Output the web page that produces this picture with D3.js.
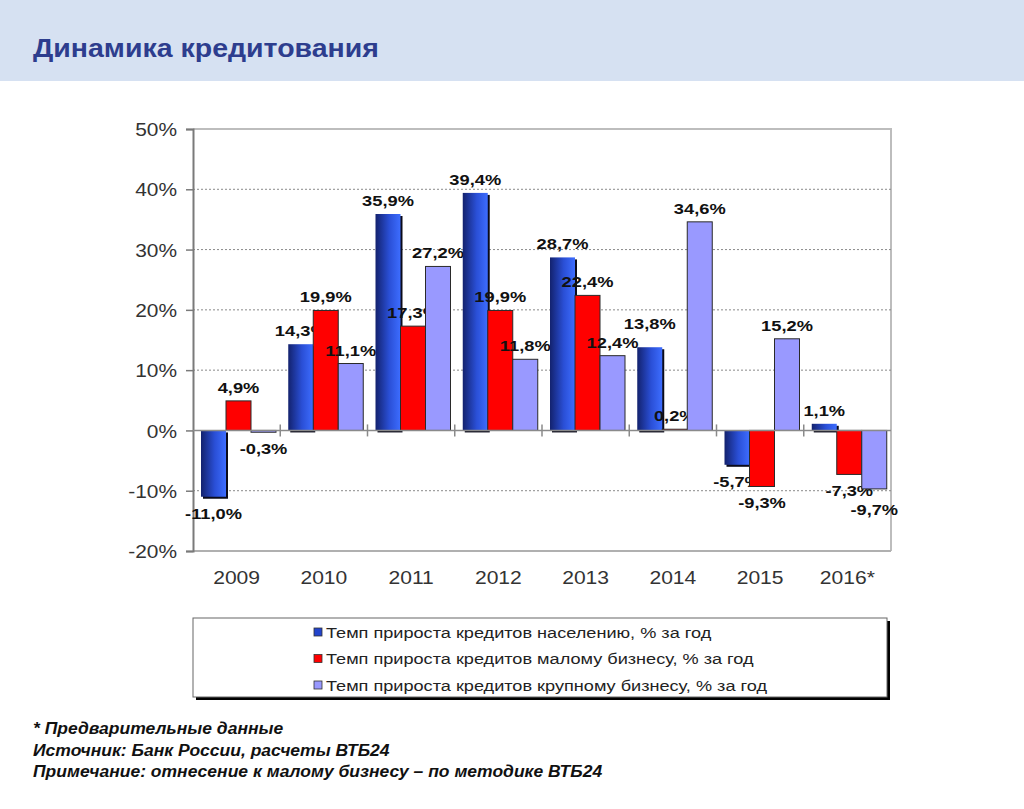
<!DOCTYPE html>
<html>
<head>
<meta charset="utf-8">
<script src="https://cdn.jsdelivr.net/npm/d3@7"></script>
<style>
  body { margin: 0; background: #fff; }
  svg { display: block; font-family: "Liberation Sans", Arial, sans-serif; }
</style>
</head>
<body>
<svg width="1024" height="809"></svg>
<script>
const years = ["2009", "2010", "2011", "2012", "2013", "2014", "2015", "2016*"];
const seriesNames = [
    "Темп прироста кредитов населению, % за год",
    "Темп прироста кредитов малому бизнесу, % за год",
    "Темп прироста кредитов крупному бизнесу, % за год"
];
const retail = [-11.0, 14.3, 35.9, 39.4, 28.7, 13.8, -5.7, 1.1];
const smallBiz = [4.9, 19.9, 17.3, 19.9, 22.4, 0.2, -9.3, -7.3];
const largeBiz = [-0.3, 11.1, 27.2, 11.8, 12.4, 34.6, 15.2, -9.7];
const yTicks = [-20, -10, 0, 10, 20, 30, 40, 50];
const footnotes = [
    "* Предварительные данные",
    "Источник: Банк России, расчеты ВТБ24",
    "Примечание: отнесение к малому бизнесу – по методике ВТБ24"
];

const seriesValues = [retail, smallBiz, largeBiz];
const colors = ["url(#blueGrad)", "#ff0000", "#9999ff"];
const legendColors = ["#2244cc", "#ff0000", "#9999ff"];

const plotLeft = 193, plotRight = 891, plotTop = 129, plotBottom = 551;
// the original picture is stretched a little horizontally
const stretch = 1.18;

const svg = d3.select("svg");

const defs = svg.append("defs");
const grad = defs.append("linearGradient")
    .attr("id", "blueGrad")
    .attr("x1", "0%").attr("x2", "100%").attr("y1", "0%").attr("y2", "0%");
grad.append("stop").attr("offset", "0%").attr("stop-color", "#13226e");
grad.append("stop").attr("offset", "55%").attr("stop-color", "#2a4fd6");
grad.append("stop").attr("offset", "100%").attr("stop-color", "#3d6dff");

// header band
svg.append("rect")
    .attr("x", 0).attr("y", 0)
    .attr("width", 1024).attr("height", 81)
    .attr("fill", "#d6e1f2");

svg.append("text")
    .attr("transform", "translate(33,57) scale(1.14,1)")
    .attr("font-size", 25)
    .attr("font-weight", 700)
    .attr("fill", "#2d3d8e")
    .text("Динамика кредитования");

const x = d3.scaleBand()
    .domain(years)
    .range([plotLeft, plotRight]);

const xInner = d3.scaleBand()
    .domain(d3.range(seriesNames.length))
    .range([8, 83]);

const y = d3.scaleLinear()
    .domain([-20, 50])
    .range([plotBottom, plotTop]);

// frame: top and right light gray
svg.append("path")
    .attr("d", `M${plotLeft},${plotTop}H${plotRight}V${plotBottom}`)
    .attr("fill", "none")
    .attr("stroke", "#bdbdbd")
    .attr("stroke-width", 2);

// dotted gridlines
svg.append("g")
    .selectAll("line")
    .data(yTicks.filter(t => t !== 0 && t !== -20 && t !== 50))
    .join("line")
    .attr("x1", plotLeft).attr("x2", plotRight)
    .attr("y1", d => y(d)).attr("y2", d => y(d))
    .attr("stroke", "#8a8a8a")
    .attr("stroke-width", 1)
    .attr("stroke-dasharray", "2,2");

// bottom line
svg.append("line")
    .attr("x1", plotLeft).attr("x2", plotRight)
    .attr("y1", plotBottom).attr("y2", plotBottom)
    .attr("stroke", "#b0b0b0")
    .attr("stroke-width", 2);

// y axis
const yAxis = d3.axisLeft(y)
    .tickValues(yTicks)
    .tickSize(7)
    .tickFormat(d => d + "%");

const yStretch = 1.1;
const yAxisG = svg.append("g")
    .attr("transform", `translate(${plotLeft},0)`)
    .call(yAxis);
yAxisG.select(".domain").attr("stroke", "#7a7a7a").attr("stroke-width", 2);
yAxisG.selectAll(".tick line").attr("stroke", "#7a7a7a").attr("stroke-width", 1.5);
yAxisG.selectAll(".tick text")
    .attr("x", -16 / yStretch)
    .attr("dy", "0.35em")
    .attr("transform", `scale(${yStretch},1)`)
    .attr("font-size", 19)
    .attr("font-family", "Liberation Sans, Arial, sans-serif")
    .attr("fill", "#333");

// bars
const groups = svg.append("g")
    .selectAll("g")
    .data(years)
    .join("g")
    .attr("transform", d => `translate(${x(d)},0)`);

const cells = groups.selectAll("g.bar")
    .data((d, i) => seriesValues.map((vals, s) => ({ s, v: vals[i] })))
    .join("g")
    .attr("class", "bar");

// 3D-like shadow for the blue series
cells.filter(d => d.s === 0)
    .append("rect")
    .attr("x", d => xInner(d.s) + 2)
    .attr("y", d => Math.min(y(d.v), y(0)) + 2)
    .attr("width", xInner.bandwidth())
    .attr("height", d => Math.max(Math.abs(y(d.v) - y(0)), 1))
    .attr("fill", "#0b0b1a");

cells.append("rect")
    .attr("x", d => xInner(d.s))
    .attr("y", d => Math.min(y(d.v), y(0)))
    .attr("width", xInner.bandwidth())
    .attr("height", d => Math.max(Math.abs(y(d.v) - y(0)), 1))
    .attr("fill", d => colors[d.s])
    .attr("stroke", d => d.s === 0 ? "none" : "#2a2a2a")
    .attr("stroke-width", 1);

// zero line with crossing ticks between categories
svg.append("line")
    .attr("x1", plotLeft).attr("x2", plotRight)
    .attr("y1", y(0)).attr("y2", y(0))
    .attr("stroke", "#8a8a8a")
    .attr("stroke-width", 1.5);

svg.append("g")
    .selectAll("line")
    .data(years.slice(1))
    .join("line")
    .attr("x1", d => x(d)).attr("x2", d => x(d))
    .attr("y1", y(0) - 6).attr("y2", y(0) + 6)
    .attr("stroke", "#8a8a8a")
    .attr("stroke-width", 1.5);

// value labels
const fmt = v => d3.format(".1f")(v).replace(".", ",").replace("−", "-") + "%";

const labels = cells.append("text")
    .each(function(d) {
        d.cx = xInner(d.s) + xInner.bandwidth() / 2;
        d.cy = d.v >= 0 ? y(d.v) - 8 : y(d.v) + 22;
    })
    .attr("transform", d => `translate(${d.cx},${d.cy}) scale(${stretch},1)`)
    .attr("text-anchor", "middle")
    .attr("font-size", 15.5)
    .attr("font-weight", 700)
    .attr("fill", "#111")
    .text(d => fmt(d.v));

// push a label away from earlier labels it would collide with
const placed = [];
labels.each(function(d) {
    for (let k = 0; k < 10; k++) {
        const r = this.getBoundingClientRect();
        const hit = placed.find(p => r.left < p.right && r.right > p.left && r.top < p.bottom && r.bottom > p.top);
        if (!hit) break;
        d.cy += d.v >= 0 ? (hit.top - r.bottom - 1) : (hit.bottom - r.top + 1);
        d3.select(this).attr("transform", `translate(${d.cx},${d.cy}) scale(${stretch},1)`);
    }
    placed.push(this.getBoundingClientRect());
});

// x labels
svg.append("g")
    .selectAll("text")
    .data(years)
    .join("text")
    .attr("transform", d => `translate(${x(d) + x.bandwidth() / 2},584) scale(1.14,1)`)
    .attr("text-anchor", "middle")
    .attr("font-size", 18.5)
    .attr("fill", "#333")
    .text(d => d);

// legend
const legendX = 193, legendY = 618, legendW = 694, legendH = 79;
svg.append("rect")
    .attr("x", legendX + 3).attr("y", legendY + 3)
    .attr("width", legendW).attr("height", legendH)
    .attr("fill", "#000");
svg.append("rect")
    .attr("x", legendX).attr("y", legendY)
    .attr("width", legendW).attr("height", legendH)
    .attr("fill", "#fff")
    .attr("stroke", "#666")
    .attr("stroke-width", 1);

const legendItems = svg.append("g")
    .selectAll("g")
    .data(seriesNames)
    .join("g")
    .attr("transform", (d, i) => `translate(314,${632 + i * 26.5})`);

legendItems.append("rect")
    .attr("x", 0).attr("y", -4)
    .attr("width", 8).attr("height", 8)
    .attr("fill", (d, i) => legendColors[i])
    .attr("stroke", "#333")
    .attr("stroke-width", 0.8);

legendItems.append("text")
    .attr("transform", "translate(12,5.5) scale(1.21,1)")
    .attr("font-size", 15)
    .attr("fill", "#222")
    .text(d => d);

// footnotes
svg.append("g")
    .selectAll("text")
    .data(footnotes)
    .join("text")
    .attr("transform", (d, i) => `translate(33,${734 + i * 21.5}) scale(1.03,1)`)
    .attr("font-size", 17)
    .attr("font-weight", 700)
    .attr("font-style", "italic")
    .attr("fill", "#111")
    .text(d => d);
</script>
</body>
</html>
